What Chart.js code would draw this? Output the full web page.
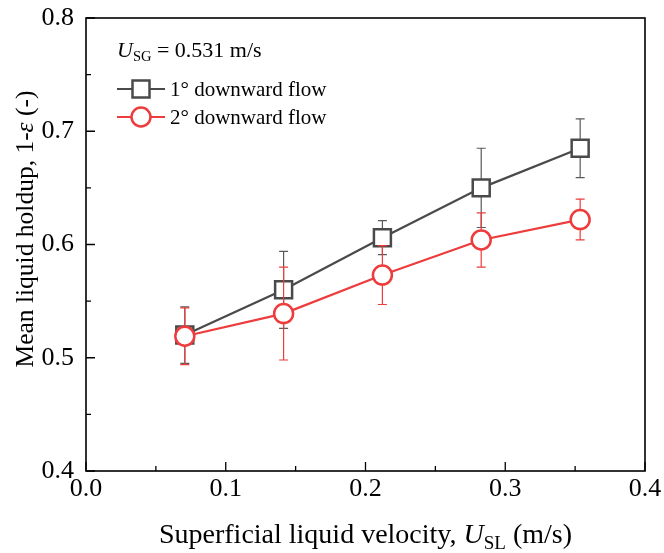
<!DOCTYPE html>
<html>
<head>
<meta charset="utf-8">
<script src="https://cdn.jsdelivr.net/npm/chart.js@4"></script>
<style>
html,body{margin:0;padding:0;background:#fff;}
#wrap{width:664px;height:553px;position:relative;}
</style>
</head>
<body>
<div id="wrap"><canvas id="c" width="664" height="553"></canvas></div>
<script>
// ---- data ----
const velocities = [0.0707, 0.1414, 0.2121, 0.2828, 0.3536];
const holdup1deg = [0.520, 0.560, 0.606, 0.650, 0.685];
const err1deg    = [0.025, 0.034, 0.015, 0.035, 0.026];
const holdup2deg = [0.519, 0.539, 0.573, 0.604, 0.622];
const err2deg    = [0.025, 0.041, 0.026, 0.024, 0.018];
const seriesLabels = ['1\u00B0 downward flow', '2\u00B0 downward flow'];
const xTicks = [0.0, 0.1, 0.2, 0.3, 0.4];
const yTicks = [0.4, 0.5, 0.6, 0.7, 0.8];

const BLACK = '#4a4a4a';
const RED = '#ee3b3b';
const SERIF = "'Liberation Serif','Times New Roman',serif";

function pts(xs, ys){ return xs.map((x,i)=>({x:x, y:ys[i]})); }

const errorBars = {
  id: 'errorBars',
  beforeDatasetDraw(chart, args) {
    const ds = chart.data.datasets[args.index];
    if (!ds.errors) return;
    const ctx = chart.ctx, xs = chart.scales.x, ys = chart.scales.y;
    ctx.save();
    ctx.strokeStyle = ds.errColor;
    ctx.lineWidth = 1.2;
    ds.data.forEach((p, i) => {
      const e = ds.errors[i];
      const px = xs.getPixelForValue(p.x);
      const top = ys.getPixelForValue(p.y + e);
      const bot = ys.getPixelForValue(p.y - e);
      ctx.beginPath();
      ctx.moveTo(px, top); ctx.lineTo(px, bot);
      ctx.moveTo(px - 4.5, top); ctx.lineTo(px + 4.5, top);
      ctx.moveTo(px - 4.5, bot); ctx.lineTo(px + 4.5, bot);
      ctx.stroke();
    });
    ctx.restore();
  }
};

function richWidth(ctx, segs) {
  let w = 0;
  segs.forEach(s => { ctx.font = (s.italic?'italic ':'') + s.size + 'px ' + SERIF; w += ctx.measureText(s.text).width; });
  return w;
}
function drawRich(ctx, segs, x, y) {
  segs.forEach(s => {
    ctx.font = (s.italic?'italic ':'') + s.size + 'px ' + SERIF;
    ctx.fillText(s.text, x, y + (s.dy || 0));
    x += ctx.measureText(s.text).width;
  });
}

const decor = {
  id: 'decor',
  afterDraw(chart) {
    const ctx = chart.ctx, a = chart.chartArea, xs = chart.scales.x, ys = chart.scales.y;
    ctx.save();
    // frame
    ctx.strokeStyle = '#000';
    ctx.lineWidth = 1.6;
    ctx.strokeRect(a.left, a.top, a.right - a.left, a.bottom - a.top);
    // inward ticks
    ctx.lineWidth = 1.3;
    ctx.beginPath();
    for (let k = 0; k <= 8; k++) {
      const v = k * 0.05;
      const px = xs.getPixelForValue(v);
      const len = (k % 2 === 0) ? 9 : 5;
      ctx.moveTo(px, a.bottom); ctx.lineTo(px, a.bottom - len);
      const yv = 0.4 + k * 0.05;
      const py = ys.getPixelForValue(yv);
      ctx.moveTo(a.left, py); ctx.lineTo(a.left + len, py);
    }
    ctx.stroke();

    ctx.fillStyle = '#000';
    ctx.textBaseline = 'alphabetic';
    // x title
    const xt = [
      {text:'Superficial liquid velocity, ', size:28},
      {text:'U', size:28, italic:true},
      {text:'SL', size:19, dy:6},
      {text:' (m/s)', size:28}
    ];
    const xw = richWidth(ctx, xt);
    drawRich(ctx, xt, (a.left + a.right)/2 - xw/2, 543);
    // y title
    const yt = [
      {text:'Mean liquid holdup, 1-', size:25.5},
      {text:'\u03B5', size:25.5, italic:true},
      {text:' (-)', size:25.5}
    ];
    const yw = richWidth(ctx, yt);
    ctx.save();
    ctx.translate(33, 229);
    ctx.rotate(-Math.PI/2);
    drawRich(ctx, yt, -yw/2, 0);
    ctx.restore();

    // legend header
    drawRich(ctx, [
      {text:'U', size:22, italic:true},
      {text:'SG', size:14.5, dy:4},
      {text:' = 0.531 m/s', size:22}
    ], 117, 57);
    // legend items
    const items = [
      {y:89, color:BLACK, shape:'rect', label:seriesLabels[0]},
      {y:117, color:RED, shape:'circle', label:seriesLabels[1]}
    ];
    items.forEach(it => {
      ctx.strokeStyle = it.color;
      ctx.lineWidth = 2;
      ctx.beginPath(); ctx.moveTo(117, it.y); ctx.lineTo(165, it.y); ctx.stroke();
      ctx.fillStyle = '#fff';
      ctx.lineWidth = 2.5;
      ctx.beginPath();
      if (it.shape === 'rect') ctx.rect(141 - 8.5, it.y - 8.5, 17, 17);
      else ctx.arc(141, it.y, 9.5, 0, Math.PI*2);
      ctx.fill(); ctx.stroke();
      ctx.fillStyle = '#000';
      ctx.font = '21px ' + SERIF;
      ctx.fillText(it.label, 170, it.y + 7);
    });
    ctx.restore();
  }
};

new Chart(document.getElementById('c'), {
  type: 'line',
  data: {
    datasets: [
      {
        label: seriesLabels[0],
        data: pts(velocities, holdup1deg),
        errors: err1deg,
        errColor: '#5a5a5a',
        borderColor: BLACK,
        backgroundColor: '#fff',
        borderWidth: 2.2,
        pointStyle: 'rect',
        pointRadius: 12,
        pointBorderWidth: 2.5,
        pointBorderColor: BLACK,
        pointBackgroundColor: '#fff',
        tension: 0,
        order: 1
      },
      {
        label: seriesLabels[1],
        data: pts(velocities, holdup2deg),
        errors: err2deg,
        errColor: RED,
        borderColor: RED,
        backgroundColor: '#fff',
        borderWidth: 2.2,
        pointStyle: 'circle',
        pointRadius: 9.5,
        pointBorderWidth: 2.5,
        pointBorderColor: RED,
        pointBackgroundColor: '#fff',
        tension: 0,
        order: 0
      }
    ]
  },
  options: {
    responsive: false,
    animation: false,
    events: [],
    layout: { padding: { top: 18, right: 19, left: 0, bottom: 0 } },
    plugins: { legend: { display: false }, tooltip: { enabled: false } },
    scales: {
      x: {
        type: 'linear', min: 0, max: 0.4,
        afterBuildTicks: s => { s.ticks = xTicks.map(v => ({value: v})); },
        afterFit: s => { s.height = 82; s.paddingLeft = 0; s.paddingRight = 0; },
        grid: { display: false, drawTicks: false },
        border: { display: false },
        ticks: { padding: 3, color: '#000', font: { family: SERIF, size: 26 }, callback: v => v.toFixed(1), maxRotation: 0 }
      },
      y: {
        type: 'linear', min: 0.4, max: 0.8,
        afterBuildTicks: s => { s.ticks = yTicks.map(v => ({value: v})); },
        afterFit: s => { s.width = 86; s.paddingTop = 0; s.paddingBottom = 0; },
        grid: { display: false, drawTicks: false },
        border: { display: false },
        ticks: { padding: 12, color: '#000', font: { family: SERIF, size: 26 }, callback: v => v.toFixed(1) }
      }
    }
  },
  plugins: [errorBars, decor]
});
</script>
</body>
</html>
